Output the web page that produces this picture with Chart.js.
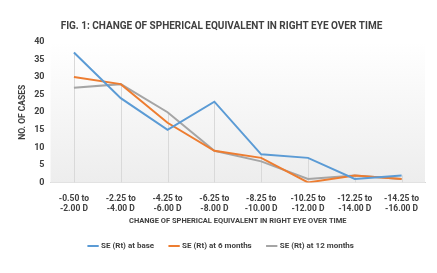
<!DOCTYPE html>
<html lang="en">
<head>
  <meta charset="UTF-8">
  <title>Change of Spherical Equivalent</title>
  <script src="https://cdn.jsdelivr.net/npm/chart.js"></script>
  <style>
    body { margin: 0; background: #fff; }
    #wrap { width: 437px; height: 273px; }
  </style>
</head>
<body>
  <div id="wrap"><canvas id="seChart" width="437" height="273"></canvas></div>
  <script>
    const ranges = [
      ["-0.50 to", "-2.00 D"], ["-2.25 to", "-4.00 D"], ["-4.25 to", "-6.00 D"], ["-6.25 to", "-8.00 D"],
      ["-8.25 to", "-10.00 D"], ["-10.25 to", "-12.00 D"], ["-12.25 to", "-14.00 D"], ["-14.25 to", "-16.00 D"]
    ];
    const atBase = [37, 24, 15, 23, 8, 7, 1, 2];
    const at6Months = [30, 28, 17, 9, 7, 0, 2, 1];
    const at12Months = [27, 28, 20, 9, 6, 1, 2, 1];
    const yTicks = [0, 5, 10, 15, 20, 25, 30, 35, 40];

    const textColor = "#404040";
    const fontFam = "Roboto, 'Liberation Sans', sans-serif";

    // plot area fill + drop lines from the highest point at each category
    const dropLines = {
      id: "dropLines",
      beforeDatasetsDraw(chart) {
        const { ctx, chartArea, scales } = chart;
        const g = ctx.createLinearGradient(0, chartArea.top, 0, chartArea.bottom);
        g.addColorStop(0, "#ffffff");
        g.addColorStop(1, "#ededed");
        ctx.save();
        ctx.fillStyle = g;
        ctx.fillRect(chartArea.left, chartArea.top, chartArea.right - chartArea.left, chartArea.bottom - chartArea.top);
        ctx.strokeStyle = "#d9d9d9";
        ctx.lineWidth = 1;
        ranges.forEach((r, i) => {
          const top = Math.max(atBase[i], at6Months[i], at12Months[i]);
          const x = Math.round(scales.x.getPixelForValue(i)) + 0.5;
          ctx.beginPath();
          ctx.moveTo(x, scales.y.getPixelForValue(top));
          ctx.lineTo(x, chartArea.bottom);
          ctx.stroke();
        });
        ctx.restore();
      }
    };

    new Chart(document.getElementById("seChart").getContext("2d"), {
      type: "line",
      data: {
        labels: ranges,
        datasets: [
          { label: "SE (Rt) at base", data: atBase, borderColor: "#5B9BD5", backgroundColor: "#5B9BD5", borderWidth: 2 },
          { label: "SE (Rt) at 6 months", data: at6Months, borderColor: "#ED7D31", backgroundColor: "#ED7D31", borderWidth: 2 },
          { label: "SE (Rt) at 12 months", data: at12Months, borderColor: "#A5A5A5", backgroundColor: "#A5A5A5", borderWidth: 2 }
        ]
      },
      options: {
        responsive: false,
        animation: false,
        devicePixelRatio: 1,
        layout: { padding: { left: 18, right: 12, top: 0, bottom: 13 } },
        elements: {
          line: { tension: 0 },
          point: { radius: 0 }
        },
        scales: {
          x: {
            offset: true,
            grid: { display: false, drawTicks: false },
            border: { color: "#d9d9d9" },
            ticks: { color: textColor, font: { family: fontFam, size: 8.5, weight: "bold", lineHeight: 1.15 }, maxRotation: 0, autoSkip: false, padding: 12 },
            title: {
              display: true,
              text: "CHANGE OF SPHERICAL EQUIVALENT IN RIGHT EYE OVER TIME",
              color: textColor,
              font: { family: fontFam, size: 7.5, weight: "bold" },
              padding: { top: -9, bottom: 0 }
            }
          },
          y: {
            min: 0,
            max: 40,
            afterBuildTicks(axis) { axis.ticks = yTicks.map(v => ({ value: v })); },
            grid: { display: false, drawTicks: false },
            border: { display: false },
            ticks: { color: textColor, font: { family: fontFam, size: 9, weight: "bold" }, padding: 6 },
            title: {
              display: true,
              text: "NO. OF CASES",
              color: textColor,
              font: { family: fontFam, size: 8.5, weight: "bold" },
              padding: { top: 0, bottom: 0 }
            }
          }
        },
        plugins: {
          title: {
            display: true,
            text: "FIG. 1: CHANGE OF SPHERICAL EQUIVALENT IN RIGHT EYE OVER TIME",
            color: textColor,
            font: { family: fontFam, size: 10, weight: "bold" },
            padding: { top: 20, bottom: 10 }
          },
          legend: {
            position: "bottom",
            labels: {
              color: textColor,
              font: { family: fontFam, size: 8, weight: "bold" },
              usePointStyle: true,
              pointStyle: "line",
              boxWidth: 20,
              padding: 16
            }
          },
          tooltip: { enabled: false }
        }
      },
      plugins: [dropLines]
    });
  </script>
</body>
</html>
